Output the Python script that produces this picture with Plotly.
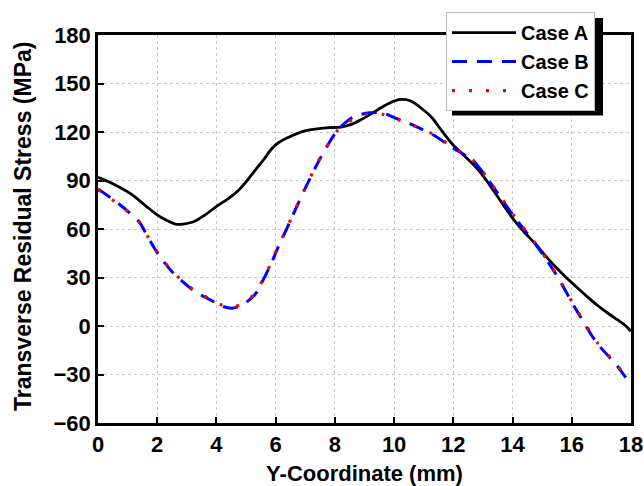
import plotly.graph_objects as go

x_a = [0, 0.5, 1.11, 1.6, 1.95, 2.3, 2.65, 3.2, 3.6, 4.04, 4.4, 4.73, 5.0, 5.29, 5.6, 5.85, 6.1, 6.4, 6.96, 7.4, 7.8, 8.2, 8.6, 8.9, 9.2, 9.47, 9.8, 10.16, 10.4, 10.58, 10.9, 11.28, 11.6, 11.97, 12.3, 12.67, 13.0, 13.36, 13.7, 14.06, 14.4, 14.76, 15.1, 15.45, 15.8, 16.15, 16.5, 16.85, 17.2, 17.54, 17.8, 18.0]
y_a = [92, 88, 81.7, 74.5, 69.4, 65.5, 62.9, 64.3, 68.5, 74.5, 78.8, 83.7, 89.2, 96, 103, 109.3, 113.5, 116.5, 120.6, 121.9, 122.7, 123, 125, 127.8, 131, 134, 137.5, 140, 140, 139, 135, 128.8, 121, 112.4, 106.5, 100, 93, 83.7, 74.5, 65.3, 58, 51, 43.7, 36.6, 30.2, 24.3, 18.5, 13, 8.2, 3.9, 0.5, -3.3]

x_b = [0, 0.7, 1.39, 1.7, 2.02, 2.5, 3.2, 3.9, 4.2, 4.52, 4.87, 5.29, 5.55, 5.85, 6.1, 6.4, 6.96, 7.52, 8.07, 8.49, 8.8, 9.19, 9.6, 10.02, 10.58, 11.28, 11.97, 12.67, 13.0, 13.36, 14.06, 14.76, 15.45, 16.15, 16.85, 17.54, 17.9]
y_b = [84.8, 75.6, 64.3, 54.5, 44.8, 33.6, 22.3, 15.1, 12.2, 11, 13, 19.2, 27.5, 38.7, 49.5, 61.2, 83.7, 104.2, 120.6, 127.8, 130.5, 131.9, 131.9, 128.8, 124.7, 118.6, 110.4, 102.2, 95, 85.8, 67.4, 51, 32.5, 10, -10.5, -24.8, -34]

x_c = [0, 0.7, 1.39, 1.7, 2.02, 2.5, 3.2, 3.9, 4.2, 4.52, 4.87, 5.29, 5.55, 5.85, 6.1, 6.4, 6.96, 7.52, 8.07, 8.49, 8.8, 9.3, 9.6, 10.02, 10.58, 11.28, 11.97, 12.67, 13.0, 13.36, 14.06, 14.76, 15.45, 16.15, 16.85, 17.54, 17.9]
y_c = [84.3, 75.2, 64.6, 54.8, 45.2, 34, 22.8, 15.6, 12.8, 11.8, 13.6, 19.8, 28, 39.2, 50, 61.5, 84, 104.5, 120.5, 126.5, 129.5, 131.5, 131, 128.5, 124.5, 119, 110.8, 102.6, 95.4, 86.2, 68, 51.5, 33, 10.5, -10, -24.4, -33.5]

x_ticks = [0, 2, 4, 6, 8, 10, 12, 14, 16, 18]
y_ticks = [-60, -30, 0, 30, 60, 90, 120, 150, 180]

font_family = "Liberation Sans, Arial, sans-serif"

L, R, T, B = 98, 631, 33, 423
PW, PH = R - L, B - T

def px(xp):
    return (xp - L) / PW

def py(yp):
    return (B - yp) / PH

fig = go.Figure()
fig.add_trace(go.Scatter(x=x_a, y=y_a, name="Case A", mode="lines",
                         line=dict(color="black", width=2.8, shape="spline", smoothing=0.8)))
fig.add_trace(go.Scatter(x=x_b, y=y_b, name="Case B", mode="lines",
                         line=dict(color="#0000ff", width=3, dash="15px,10px", shape="spline", smoothing=0.8)))
fig.add_trace(go.Scatter(x=x_c, y=y_c, name="Case C", mode="lines",
                         line=dict(color="#ff0000", width=3.2, dash="3px,14px", shape="spline", smoothing=0.8)))

axis_common = dict(
    showline=True, linecolor="black", linewidth=2.5, mirror=True,
    ticks="inside", ticklen=6, tickwidth=2, tickcolor="black",
    showgrid=True, gridcolor="#c8c8c8", griddash="dot", gridwidth=1,
    zeroline=False, automargin=False,
    tickfont=dict(family=font_family, size=22, color="black", weight="bold"),
)

fig.update_xaxes(range=[0, 18], tickvals=x_ticks, **axis_common,
                 title=dict(text="<b>Y-Coordinate (mm)</b>", font=dict(family=font_family, size=22, color="black"), standoff=10))
fig.update_yaxes(range=[-60, 180], tickvals=y_ticks, **axis_common)

fig.add_annotation(text="<b>Transverse Residual Stress (MPa)</b>", textangle=-90,
                   xref="paper", yref="paper", x=px(23), y=py(226),
                   xanchor="center", yanchor="middle", showarrow=False,
                   font=dict(family=font_family, size=23, color="black"))

# legend shadow
fig.add_shape(type="rect", xref="paper", yref="paper",
              x0=px(452), x1=px(603), y0=py(106), y1=py(16),
              fillcolor="black", line=dict(width=0), layer="above")
fig.add_shape(type="rect", xref="paper", yref="paper",
              x0=px(452), x1=px(603), y0=py(114), y1=py(104),
              fillcolor="black", line=dict(width=0), layer="above")

fig.update_layout(
    width=644, height=486,
    margin=dict(l=L, r=644 - R, t=T, b=486 - B),
    plot_bgcolor="white", paper_bgcolor="white",
    showlegend=True,
    legend=dict(x=px(446), y=py(10), xanchor="left", yanchor="top",
                bgcolor="white", bordercolor="#bdbdbd", borderwidth=1,
                font=dict(family=font_family, size=20, color="black", weight="bold"),
                itemwidth=64, tracegroupgap=0),
)

fig.write_html("out.html", config={"displayModeBar": False},
               post_script="document.body.style.margin='0';document.body.style.overflow='hidden';")
